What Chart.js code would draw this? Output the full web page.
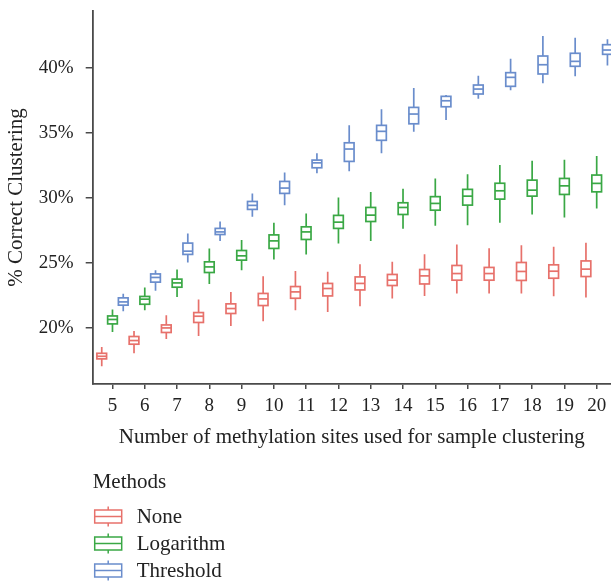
<!DOCTYPE html>
<html>
<head>
<meta charset="utf-8">
<script src="https://cdn.jsdelivr.net/npm/chart.js@4/dist/chart.umd.min.js"></script>
<style>
  html, body { margin: 0; padding: 0; background: #fff; }
  #wrap { width: 611px; height: 581px; }
</style>
</head>
<body>
<div id="wrap"><canvas id="c" width="611" height="581"></canvas></div>
<script>
// Number of methylation sites (x categories)
const sites = [5, 6, 7, 8, 9, 10, 11, 12, 13, 14, 15, 16, 17, 18, 19, 20];
const yTicks = [20, 25, 30, 35, 40];

// Box statistics per site: [min, q1, median, q3, max] in % correct clustering
const noneStats = [
  [17.05, 17.62, 17.82, 18.05, 18.54],
  [18.05, 18.75, 19.03, 19.34, 19.77],
  [19.15, 19.65, 20.00, 20.23, 20.98],
  [19.38, 20.42, 20.90, 21.18, 22.18],
  [20.15, 21.11, 21.49, 21.85, 22.77],
  [20.52, 21.72, 22.23, 22.65, 23.98],
  [21.36, 22.28, 22.77, 23.18, 24.38],
  [21.23, 22.46, 23.03, 23.42, 24.31],
  [21.67, 22.92, 23.42, 23.92, 24.90],
  [22.26, 23.26, 23.67, 24.11, 25.08],
  [22.46, 23.38, 24.00, 24.49, 25.67],
  [22.65, 23.67, 24.18, 24.80, 26.42],
  [22.65, 23.67, 24.18, 24.65, 26.13],
  [22.65, 23.65, 24.34, 25.03, 26.36],
  [22.44, 23.82, 24.36, 24.85, 26.23],
  [22.34, 23.95, 24.52, 25.15, 26.54]
];
const logStats = [
  [19.69, 20.31, 20.65, 20.92, 21.42],
  [21.36, 21.82, 22.21, 22.42, 23.11],
  [22.38, 23.13, 23.46, 23.75, 24.49],
  [23.38, 24.26, 24.69, 25.08, 26.10],
  [24.44, 25.21, 25.54, 25.95, 26.75],
  [25.26, 26.11, 26.69, 27.15, 28.08],
  [25.65, 26.80, 27.38, 27.77, 28.80],
  [26.49, 27.65, 28.13, 28.65, 30.03],
  [26.69, 28.18, 28.67, 29.26, 30.44],
  [27.62, 28.72, 29.26, 29.62, 30.69],
  [27.85, 29.05, 29.57, 30.09, 31.49],
  [27.90, 29.44, 30.13, 30.65, 31.82],
  [28.08, 29.90, 30.54, 31.12, 32.52],
  [28.72, 30.13, 30.59, 31.36, 32.85],
  [28.49, 30.26, 30.92, 31.49, 32.92],
  [29.18, 30.46, 31.11, 31.75, 33.21]
];
const thrStats = [
  [21.28, 21.75, 22.00, 22.31, 22.62],
  [22.85, 23.52, 23.88, 24.15, 24.44],
  [25.03, 25.65, 25.90, 26.52, 27.26],
  [26.69, 27.18, 27.38, 27.65, 28.18],
  [28.54, 29.11, 29.42, 29.72, 30.34],
  [29.42, 30.34, 30.75, 31.26, 31.95],
  [31.88, 32.31, 32.69, 32.90, 33.42],
  [32.05, 32.80, 33.75, 34.23, 35.57],
  [33.42, 34.42, 35.11, 35.57, 36.80],
  [35.08, 35.69, 36.44, 36.95, 38.44],
  [35.98, 37.00, 37.46, 37.80, 37.90],
  [37.62, 37.98, 38.36, 38.67, 39.38],
  [38.26, 38.57, 39.26, 39.62, 40.69],
  [38.80, 39.52, 40.23, 40.90, 42.44],
  [39.34, 40.11, 40.49, 41.11, 42.31],
  [40.18, 41.03, 41.36, 41.77, 42.18]
];

const methods = ['None', 'Logarithm', 'Threshold'];
const colors = ['#e7716b', '#3aa845', '#6a8dcc'];
const dodge = [-0.333, 0, 0.333];   // side-by-side offset within each site
const boxHalf = 0.15;               // half box width in x units
const FONT = '"Liberation Serif", "Times New Roman", serif';
const AXIS = '#4a4a4a';
const INK = '#222';

const allStats = [noneStats, logStats, thrStats];

const datasets = methods.map((m, k) => ({
  label: m,
  stats: allStats[k],
  dodge: dodge[k],
  borderColor: colors[k],
  backgroundColor: colors[k],
  pointRadius: 0,
  showLine: false,
  data: allStats[k].map((s, i) => ({ x: sites[i] + dodge[k], y: s[2] }))
}));

// Draws the box-and-whisker marks through the chart scales
const boxPlugin = {
  id: 'boxes',
  afterDatasetsDraw(chart) {
    const { ctx } = chart;
    const x = chart.scales.x, y = chart.scales.y;
    ctx.save();
    ctx.lineWidth = 1.7;
    ctx.lineCap = 'butt';
    chart.data.datasets.forEach(ds => {
      ctx.strokeStyle = ds.borderColor;
      ds.stats.forEach((s, i) => {
        const c = sites[i] + ds.dodge;
        const cx = x.getPixelForValue(c);
        const l = x.getPixelForValue(c - boxHalf);
        const r = x.getPixelForValue(c + boxHalf);
        const [lo, q1, md, q3, hi] = s.map(v => y.getPixelForValue(v));
        ctx.beginPath();
        ctx.moveTo(cx, hi); ctx.lineTo(cx, q3);
        ctx.moveTo(cx, q1); ctx.lineTo(cx, lo);
        ctx.stroke();
        ctx.fillStyle = '#fff';
        ctx.fillRect(l, q3, r - l, q1 - q3);
        ctx.strokeRect(l, q3, r - l, q1 - q3);
        ctx.beginPath();
        ctx.moveTo(l, md); ctx.lineTo(r, md);
        ctx.stroke();
      });
    });
    ctx.restore();
  }
};

// Legend block under the axis title
const legendPlugin = {
  id: 'methodsLegend',
  afterDraw(chart) {
    const { ctx, chartArea } = chart;
    const left = chartArea.left;
    ctx.save();
    ctx.font = '21px ' + FONT;
    ctx.fillStyle = INK;
    ctx.textBaseline = 'middle';
    ctx.textAlign = 'left';
    ctx.fillText('Methods', left, 482);
    methods.forEach((m, k) => {
      const cy = 516.5 + k * 27;
      const x0 = left + 2, x1 = left + 29;
      const mx = (x0 + x1) / 2;
      ctx.strokeStyle = colors[k];
      ctx.lineWidth = 1.5;
      ctx.beginPath();
      ctx.moveTo(mx, cy - 10); ctx.lineTo(mx, cy - 6.5);
      ctx.moveTo(mx, cy + 6.5); ctx.lineTo(mx, cy + 10);
      ctx.stroke();
      ctx.strokeRect(x0, cy - 6.5, x1 - x0, 13);
      ctx.beginPath();
      ctx.moveTo(x0, cy); ctx.lineTo(x1, cy);
      ctx.stroke();
      ctx.fillStyle = INK;
      ctx.fillText(m, left + 44, cy + 1);
    });
    ctx.restore();
  }
};

// Keep the plot box fixed: no extra room reserved for edge tick labels
const noEdgePadding = s => {
  s.paddingTop = 0; s.paddingBottom = 0;
  s.paddingLeft = 0; s.paddingRight = 0;
};

new Chart(document.getElementById('c'), {
  type: 'scatter',
  data: { datasets },
  plugins: [boxPlugin, legendPlugin],
  options: {
    responsive: false,
    animation: false,
    events: [],
    layout: { padding: { top: 11, right: 0, bottom: 131, left: 0 } },
    plugins: { legend: { display: false }, tooltip: { enabled: false } },
    scales: {
      x: {
        type: 'linear',
        min: 4.387,
        max: 20.443,
        afterBuildTicks: s => { s.ticks = sites.map(v => ({ value: v })); },
        afterFit: s => { s.height = 66; noEdgePadding(s); },
        ticks: {
          font: { family: FONT, size: 19 },
          color: INK,
          padding: 6,
          autoSkip: false,
          maxRotation: 0,
          callback: v => String(v)
        },
        grid: { drawOnChartArea: false, drawTicks: true, tickLength: 5, color: AXIS, lineWidth: 1.5 },
        border: { display: true, color: AXIS, width: 1.8 },
        title: {
          display: true,
          text: 'Number of methylation sites used for sample clustering',
          font: { family: FONT, size: 21 },
          color: INK,
          padding: { top: 4, bottom: 0 }
        }
      },
      y: {
        type: 'linear',
        min: 15.69,
        max: 44.36,
        afterBuildTicks: s => { s.ticks = yTicks.map(v => ({ value: v })); },
        afterFit: s => { s.width = 92.7; noEdgePadding(s); },
        ticks: {
          font: { family: FONT, size: 19 },
          color: INK,
          padding: 12,
          callback: v => v + '%'
        },
        grid: { drawOnChartArea: false, drawTicks: true, tickLength: 7, color: AXIS, lineWidth: 1.5 },
        border: { display: true, color: AXIS, width: 1.8 },
        title: {
          display: true,
          text: '% Correct Clustering',
          font: { family: FONT, size: 21 },
          color: INK,
          padding: { top: 4, bottom: 0 }
        }
      }
    }
  }
});
</script>
</body>
</html>
